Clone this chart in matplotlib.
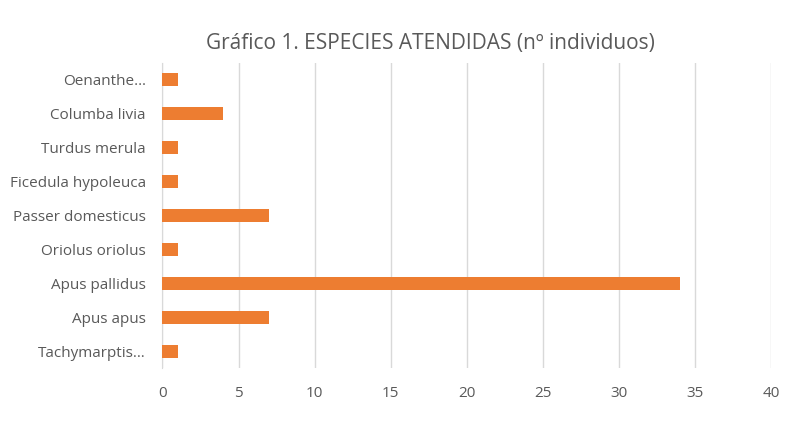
import matplotlib.pyplot as plt

# Species attended (bottom to top as drawn)
species = [
    "Tachymarptis…",
    "Apus apus",
    "Apus pallidus",
    "Oriolus oriolus",
    "Passer domesticus",
    "Ficedula hypoleuca",
    "Turdus merula",
    "Columba livia",
    "Oenanthe…",
]
individuos = [1, 7, 34, 1, 7, 1, 1, 4, 1]
xticks = [0, 5, 10, 15, 20, 25, 30, 35, 40]

TEXT = "#595959"
plt.rcParams["font.family"] = ["Open Sans", "DejaVu Sans"]

fig = plt.figure(figsize=(8.04, 4.25), dpi=100)
ax = fig.add_axes([0.2021, 0.134, 0.757, 0.718])

ax.barh(range(len(species)), individuos, height=0.38, color="#ED7D31", zorder=3)

ax.set_xlim(0, 40)
ax.set_ylim(-0.5, len(species) - 0.5)
ax.set_xticks(xticks)
ax.set_yticks(range(len(species)))
ax.set_yticklabels(species)
ax.grid(axis="x", color="#d9d9d9", lw=1, zorder=0)
ax.set_axisbelow(True)

for s in ["top", "right", "bottom"]:
    ax.spines[s].set_visible(False)
ax.spines["left"].set_color("#d9d9d9")
ax.tick_params(axis="both", length=0, colors=TEXT, labelsize=11)
ax.tick_params(axis="x", pad=13)
ax.tick_params(axis="y", pad=12)

fig.text(0.535, 0.897, "Gráfico 1. ESPECIES ATENDIDAS (nº individuos)",
         ha="center", va="center", fontsize=15, color=TEXT)

fig.savefig("out.png", dpi=100)
